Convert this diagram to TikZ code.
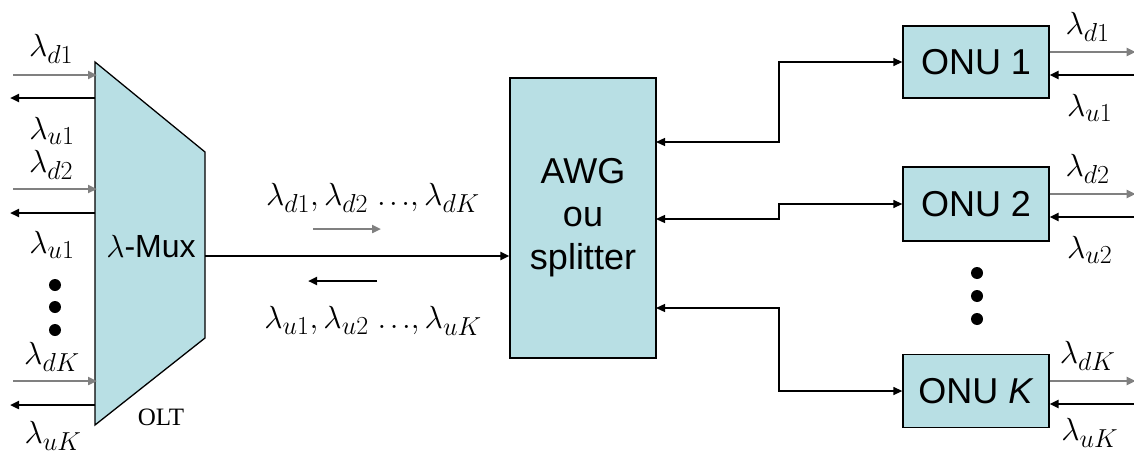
\RequirePackage{fix-cm}
\documentclass[tikz,border=0pt]{standalone}
\usepackage{fontspec}
\setsansfont{Liberation Sans}
\newfontfamily\oltfont{Liberation Serif}
\DeclareMathSizes{32}{32}{26}{20}
\usetikzlibrary{positioning,arrows.meta,calc}
\definecolor{boxcol}{RGB}{184,223,228}
\definecolor{dncol}{RGB}{128,128,128}
\newcommand{\tdots}{.\mkern2mu.\mkern2mu.}

\begin{document}
\begin{tikzpicture}[
  x=1pt, y=-1pt,
  >={Triangle[length=9pt,width=8pt]},
  box/.style={draw=black, line width=1.3pt, fill=boxcol, align=center,
              inner sep=0pt, font=\fontsize{36}{43}\selectfont\sffamily},
  dnarrow/.style={->, draw=dncol, line width=2.6pt},
  uparrow/.style={->, draw=black, line width=2.6pt},
  link/.style={<->, line width=1.3pt},
  lam/.style={inner sep=0pt, font=\fontsize{32}{34}\selectfont},
  dot/.style={circle, fill=black, inner sep=0pt, minimum size=12pt},
]
\useasboundingbox (0,0) rectangle (1134,455);

% ---------- OLT: lambda-Mux ----------
\coordinate (muxTL) at (95,62);
\coordinate (muxTR) at (205,152);
\coordinate (muxBR) at (205,338);
\coordinate (muxBL) at (95,425);
\draw[line width=1.3pt, fill=boxcol] (muxTL) -- (muxTR) -- (muxBR) -- (muxBL) -- cycle;
\node[inner sep=0pt, font=\fontsize{32}{34}\selectfont\sffamily] (mux) at (151,247) {$\lambda$-Mux};
\node[inner sep=0pt, font=\fontsize{25}{27}\selectfont\oltfont] (olt) at (161,417) {OLT};
\coordinate (muxOut) at (205,256);

% ---------- OLT side wavelengths ----------
\coordinate (inA) at (13,75);   \coordinate (inAe) at (97,75);
\coordinate (outA) at (95,98);  \coordinate (outAe) at (10,98);
\coordinate (inB) at (13,189);  \coordinate (inBe) at (97,189);
\coordinate (outB) at (95,213); \coordinate (outBe) at (10,213);
\coordinate (inK) at (13,381);  \coordinate (inKe) at (97,381);
\coordinate (outK) at (95,405); \coordinate (outKe) at (10,405);
\draw[dnarrow] (inA) -- (inAe);
\draw[uparrow] (outA) -- (outAe);
\draw[dnarrow] (inB) -- (inBe);
\draw[uparrow] (outB) -- (outBe);
\draw[dnarrow] (inK) -- (inKe);
\draw[uparrow] (outK) -- (outKe);

\node[lam] (ld1) at (51,49) {$\lambda_{d1}$};
\node[lam] (lu1) at (52,131) {$\lambda_{u1}$};
\node[lam] (ld2) at (51,165) {$\lambda_{d2}$};
\node[lam] (lu1b) at (52,245) {$\lambda_{u1}$};
\node[lam] (ldK) at (52,357) {$\lambda_{dK}$};
\node[lam] (luK) at (53,436) {$\lambda_{uK}$};
\node[dot] (dotL1) at (55,285) {};
\node[dot] (dotL2) at (55,307) {};
\node[dot] (dotL3) at (55,330) {};

% ---------- AWG / splitter ----------
\node[box, minimum width=146pt, minimum height=280pt] (awg) at (583,218)
  {AWG\\ou\\splitter};
\draw[uparrow, line width=2.4pt] (muxOut) -- (awg.west |- muxOut);

% ---------- feeder wavelengths ----------
\coordinate (fdn) at (313,229);  \coordinate (fdne) at (381,229);
\coordinate (fup) at (377,281);  \coordinate (fupe) at (308,281);
\draw[dnarrow] (fdn) -- (fdne);
\draw[uparrow] (fup) -- (fupe);
\node[lam] (fdlbl) at (373,198) {$\lambda_{d1},\lambda_{d2}\;\tdots,\lambda_{dK}$};
\node[lam] (fulbl) at (373,321) {$\lambda_{u1},\lambda_{u2}\;\tdots,\lambda_{uK}$};

% ---------- ONUs ----------
\node[box, minimum width=146pt, minimum height=72pt] (onuA) at (976,62) {ONU 1};
\node[box, minimum width=146pt, minimum height=74pt] (onuB) at (976,204) {ONU 2};
\node[box, minimum width=146pt, minimum height=73pt] (onuK) at (976,391) {ONU \textit{K}};
\node[dot] (dotR1) at (977,273) {};
\node[dot] (dotR2) at (977,296) {};
\node[dot] (dotR3) at (977,319) {};

% ---------- AWG to ONU links ----------
\coordinate (awgA) at (656,142);
\coordinate (awgB) at (656,219);
\coordinate (awgK) at (656,308);
\draw[link] (awgA) -- ++(123,0) |- (onuA.west);
\draw[link] (awgB) -- ++(123,0) |- (onuB.west);
\draw[link] (awgK) -- ++(123,0) |- (onuK.west);

% ---------- ONU side wavelengths ----------
\foreach \o/\w/\d in {onuA/1/33, onuB/2/33, onuK/K/29} {
  \coordinate (\o dn) at ($(\o.east)+(0,-10)$);
  \coordinate (\o up) at ($(\o.east)+(86,13)$);
  \draw[dnarrow] (\o dn) -- ++(86,0);
  \draw[uparrow] (\o up) -- ++(-86,0);
  \node[lam] (\o dl) at ($(\o dn)+(38,-25)$) {$\lambda_{d\w}$};
  \node[lam] (\o ul) at ($(\o up)+(-46,\d)$) {$\lambda_{u\w}$};
}

\end{tikzpicture}
\end{document}
